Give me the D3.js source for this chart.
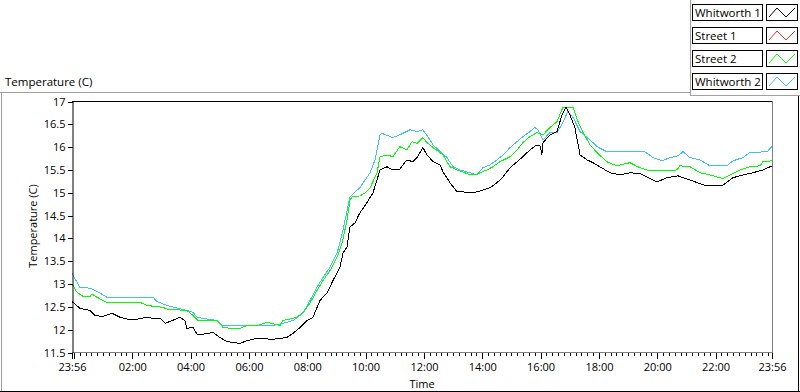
<!DOCTYPE html>
<html><head><meta charset="utf-8">
<script src="https://cdn.jsdelivr.net/npm/d3@7"></script>
<style>
html,body{margin:0;padding:0;background:#fff;}
svg text{font-family:"Open Sans","Noto Sans",sans-serif;font-size:11px;fill:#000;}
</style></head>
<body><svg id="c" width="800" height="392"></svg>
<script>
// ---- data (time in hours elapsed since 23:56, temperature in C) ----
const seriesNames = ["Whitworth 1", "Street 1", "Street 2", "Whitworth 2"];
const seriesColors = ["#000000", "#ff2a2a", "#00ff00", "#40bfff"];

const w1Time = [0,0.03,0.27,0.62,0.79,1.06,1.37,1.65,1.92,2.23,2.57,2.78,3.02,3.19,3.36,3.70,3.87,3.94,4.15,4.29,4.49,4.83,5.07,5.31,5.52,5.76,6.00,6.34,6.89,7.37,7.58,7.82,8.06,8.26,8.50,8.74,8.95,9.19,9.29,9.43,9.53,9.70,9.87,10.11,10.32,10.56,10.80,11.00,11.24,11.48,11.69,11.83,12.03,12.17,12.38,12.62,12.72,12.96,13.20,13.40,13.64,13.88,14.09,14.33,14.57,14.78,15.02,15.26,15.46,15.70,15.94,16.06,16.11,16.15,16.39,16.63,16.80,16.94,17.07,17.24,17.42,17.66,17.86,18.10,18.44,18.79,19.13,19.47,19.82,20.06,20.40,20.78,21.19,21.53,21.77,22.11,22.32,22.66,23.00,23.35,23.69,24.00];
const w1Temp = [12.62,12.60,12.47,12.42,12.31,12.29,12.36,12.27,12.23,12.23,12.27,12.25,12.25,12.14,12.18,12.27,12.20,12.03,12.05,11.90,11.90,11.94,11.83,11.74,11.72,11.70,11.76,11.81,11.79,11.83,11.92,12.05,12.20,12.27,12.64,12.80,13.08,13.37,13.68,13.81,14.25,14.34,14.56,14.78,15.00,15.50,15.57,15.50,15.52,15.72,15.68,15.77,15.99,15.83,15.68,15.61,15.46,15.22,15.02,15.02,15.00,15.02,15.06,15.11,15.22,15.35,15.55,15.68,15.79,15.94,16.05,16.02,15.83,16.10,16.27,16.34,16.71,16.87,16.71,16.43,15.83,15.72,15.66,15.57,15.44,15.39,15.44,15.42,15.31,15.24,15.33,15.37,15.28,15.20,15.15,15.15,15.17,15.33,15.39,15.44,15.50,15.59];

const s1Time = [];
const s1Temp = [];

const s2Time = [0,0.03,0.17,0.38,0.62,0.69,0.86,1.06,1.20,2.33,2.57,3.12,3.26,3.94,4.15,4.32,4.97,5.18,5.42,5.76,6.00,6.34,6.69,7.13,7.23,7.71,7.92,8.16,8.40,8.61,8.85,9.09,9.26,9.43,9.53,9.60,9.87,10.05,10.22,10.46,10.56,10.80,11.00,11.24,11.48,11.66,11.83,12.03,12.17,12.38,12.72,12.96,13.20,13.40,13.64,13.88,13.99,14.23,14.43,14.67,15.02,15.26,15.46,15.70,15.94,16.15,16.39,16.63,16.83,17.18,17.35,17.52,17.76,18.00,18.34,18.68,19.13,19.40,19.71,20.06,20.74,20.84,21.19,21.53,21.87,22.21,22.32,22.56,22.90,23.24,23.59,23.69,24.00];
const s2Temp = [12.97,12.97,12.82,12.73,12.73,12.78,12.71,12.64,12.60,12.60,12.53,12.49,12.45,12.42,12.31,12.20,12.20,12.05,12.03,12.03,12.09,12.09,12.16,12.09,12.20,12.27,12.38,12.58,12.86,13.08,13.30,13.59,13.90,14.40,14.84,14.91,14.93,15.00,15.11,15.44,15.79,15.83,15.79,16.01,15.94,16.12,16.08,16.21,16.10,15.99,15.83,15.57,15.50,15.46,15.39,15.39,15.44,15.50,15.57,15.68,15.79,15.94,16.10,16.23,16.32,16.27,16.43,16.56,16.87,16.87,16.56,16.32,16.05,15.88,15.68,15.59,15.66,15.57,15.50,15.48,15.50,15.59,15.57,15.44,15.39,15.33,15.31,15.39,15.50,15.57,15.59,15.68,15.70];

const w2Time = [0,0.17,0.27,0.62,0.79,0.96,1.20,2.78,2.91,3.26,3.94,4.15,4.29,4.97,5.14,6.89,7.23,7.58,7.92,8.16,8.40,8.61,8.85,9.09,9.29,9.53,9.70,9.87,10.05,10.22,10.39,10.56,10.63,11.00,11.24,11.59,11.83,12.03,12.20,12.38,12.62,12.86,13.06,13.30,13.64,13.88,14.09,14.33,14.57,14.78,15.02,15.26,15.46,15.70,15.87,15.98,16.15,16.39,16.63,16.83,17.00,17.18,17.42,17.66,17.86,18.00,18.34,19.64,19.92,20.23,20.50,20.78,20.95,21.19,21.53,21.87,22.45,22.66,23.00,23.24,23.83,24.00];
const w2Temp = [13.24,13.04,12.93,12.91,12.86,12.80,12.71,12.71,12.62,12.53,12.42,12.38,12.27,12.20,12.09,12.09,12.14,12.20,12.36,12.64,12.93,13.15,13.37,13.68,14.18,14.91,15.02,15.11,15.28,15.44,15.72,16.27,16.30,16.21,16.27,16.38,16.34,16.38,16.23,16.05,15.90,15.77,15.57,15.50,15.44,15.39,15.55,15.61,15.72,15.83,15.99,16.12,16.23,16.34,16.43,16.38,16.16,16.32,16.32,16.54,16.78,16.65,16.34,16.21,16.10,16.01,15.90,15.90,15.77,15.70,15.77,15.81,15.90,15.77,15.72,15.59,15.59,15.70,15.77,15.88,15.90,16.01];

const yTicks = [11.5,12,12.5,13,13.5,14,14.5,15,15.5,16,16.5,17];
const xTickLabels = ["23:56","02:00","04:00","06:00","08:00","10:00","12:00","14:00","16:00","18:00","20:00","22:00","23:56"];

// ---- drawing ----
const svg = d3.select("#c");
const L = 72, R = 772, T = 101.5, B = 352.5;
const x = d3.scaleLinear().domain([0, 24]).range([L, R]);
const y = d3.scaleLinear().domain([11.5, 17]).range([B, T]);

// hours since 23:56 for a clock label
function labelToOffset(lbl, i, arr) {
  if (i === arr.length - 1) return 24;
  const [h, m] = lbl.split(":").map(Number);
  return (((h * 60 + m) - (23 * 60 + 56) + 1440) % 1440) / 60;
}
const majorPos = xTickLabels.map(labelToOffset);

// outer frame
svg.append("line").attr("x1",0).attr("x2",690).attr("y1",92.5).attr("y2",92.5).attr("stroke","#a0a0a0");
svg.append("line").attr("x1",1.5).attr("x2",1.5).attr("y1",92).attr("y2",392).attr("stroke","#a0a0a0");
svg.append("line").attr("x1",690.5).attr("x2",690.5).attr("y1",0).attr("y2",96).attr("stroke","#a0a0a0");
svg.append("line").attr("x1",690).attr("x2",800).attr("y1",95.5).attr("y2",95.5).attr("stroke","#a0a0a0");
svg.append("line").attr("x1",0).attr("x2",800).attr("y1",391.5).attr("y2",391.5).attr("stroke","#000");
svg.append("line").attr("x1",798.5).attr("x2",798.5).attr("y1",96).attr("y2",392).attr("stroke","#000");

// title
svg.append("text").attr("x",5).attr("y",86).style("font-size","11.5px").text("Temperature (C)");

// plot area
svg.append("rect").attr("x",L).attr("y",T).attr("width",R-L).attr("height",B-T).attr("fill","#fff");
svg.append("line").attr("x1",L).attr("x2",R+0.5).attr("y1",T).attr("y2",T).attr("stroke","#000");
svg.append("line").attr("x1",R+0.5).attr("x2",R+0.5).attr("y1",T).attr("y2",B+0.5).attr("stroke","#808080");
svg.append("line").attr("x1",L).attr("x2",R+0.5).attr("y1",B).attr("y2",B).attr("stroke","#808080");

// data lines
const line = d3.line().x(d => x(d[0])).y(d => y(d[1]));
const series = [
  {t: w2Time, v: w2Temp, c: seriesColors[3]},
  {t: s2Time, v: s2Temp, c: seriesColors[2]},
  {t: s1Time, v: s1Temp, c: seriesColors[1]},
  {t: w1Time, v: w1Temp, c: seriesColors[0]}
];
series.forEach(s => {
  const pts = s.t.map((t, i) => [t, s.v[i]]);
  if (!pts.length) return;
  svg.append("path").datum(pts).attr("d", line).attr("fill","none")
    .attr("stroke", s.c).attr("stroke-width", 1).attr("shape-rendering","crispEdges");
});

// y axis
const yAxis = d3.axisLeft(y).tickValues(yTicks).tickSize(5).tickSizeOuter(0).tickPadding(2)
  .tickFormat(d => String(d));
const gy = svg.append("g").attr("transform", `translate(${L+0.5},0)`).call(yAxis);
gy.select(".domain").attr("stroke","#000");
gy.selectAll(".tick line").attr("stroke","#000");

// x axis minor ticks (every 12 min from 00:00)
const minor = d3.range(4/60, 24, 0.2);
const gx = svg.append("g").attr("transform", `translate(0,${B+0.5})`);
gx.call(d3.axisBottom(x).tickValues(minor).tickSize(3).tickFormat("")).select(".domain").remove();
const gx2 = svg.append("g").attr("transform", `translate(0,${B+0.5})`);
const majorVals = [majorPos[0], 4/60].concat(majorPos.slice(1));
gx2.call(d3.axisBottom(x).tickValues(majorVals).tickSize(6).tickPadding(4)
  .tickFormat((d, i) => {
    if (i === 0) return xTickLabels[0];
    if (i === 1) return "";
    return xTickLabels[i - 1];
  })).select(".domain").remove();
svg.selectAll(".tick line").attr("stroke","#000").attr("shape-rendering","crispEdges");
svg.selectAll(".tick text").attr("font-size", 11).attr("font-family", "'Open Sans',sans-serif");

// axis titles
svg.append("text").attr("x",(L+R)/2).attr("y",388).attr("text-anchor","middle").text("Time");
svg.append("text").attr("transform","translate(37,226) rotate(-90)").attr("text-anchor","middle").text("Temperature (C)");

// legend
const lg = svg.append("g");
seriesNames.forEach((name, i) => {
  const top = 4 + i * 23;
  lg.append("rect").attr("x",692.5).attr("y",top+0.5).attr("width",70).attr("height",16)
    .attr("fill","#fff").attr("stroke","#000");
  lg.append("text").attr("x",695).attr("y",top+12.5).style("font-size","11.5px").text(name);
  lg.append("rect").attr("x",766.5).attr("y",top+0.5).attr("width",31).attr("height",16)
    .attr("fill","#fff").attr("stroke","#000");
  const icon = [[769,top+13],[777,top+4],[786,top+13],[795,top+4]];
  lg.append("path").attr("d", d3.line()(icon)).attr("fill","none").attr("stroke", seriesColors[i]);
});
</script></body></html>
